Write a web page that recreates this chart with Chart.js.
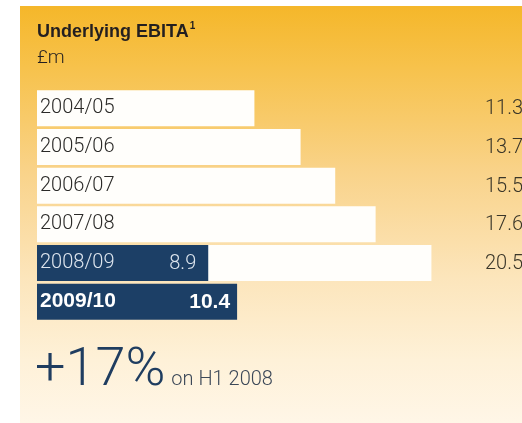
<!DOCTYPE html>
<html>
<head>
<meta charset="utf-8">
<script src="https://cdn.jsdelivr.net/npm/chart.js@4/dist/chart.umd.min.js"></script>
<style>
  html, body { margin: 0; padding: 0; background: #fff; }
  #wrap { width: 522px; height: 423px; }
</style>
</head>
<body>
<div id="wrap"><canvas id="ebitaChart" width="522" height="423"></canvas></div>
<script>
// Underlying EBITA, £m
const years = ['2004/05', '2005/06', '2006/07', '2007/08', '2008/09', '2009/10'];
const fullYear = [11.3, 13.7, 15.5, 17.6, 20.5, null];   // white bars, value shown on the right
const halfYear = [null, null, null, null, 8.9, 10.4];     // navy bars, value shown inside
const xRange = [0, 25];

const NAVY = '#1c3f66';
const LIGHT = '300 20px Roboto, "Liberation Sans", sans-serif';
const BOLD = 'bold 21px "Liberation Sans", Arial, sans-serif';

const decor = {
    id: 'decor',
    beforeDraw(chart) {
        const ctx = chart.ctx;
        ctx.save();
        ctx.fillStyle = '#ffffff';
        ctx.fillRect(0, 0, chart.width, chart.height);
        // panel gradient
        const g = ctx.createLinearGradient(0, 6, 0, chart.height);
        g.addColorStop(0, '#f5b72a');
        g.addColorStop(0.15, '#f7c24c');
        g.addColorStop(0.4, '#f9d38a');
        g.addColorStop(0.65, '#fce5bb');
        g.addColorStop(0.85, '#fef1d8');
        g.addColorStop(1, '#fff6e7');
        ctx.fillStyle = g;
        ctx.fillRect(20, 6, chart.width - 20, chart.height - 6);

        // heading
        ctx.fillStyle = '#231f20';
        ctx.textBaseline = 'alphabetic';
        ctx.textAlign = 'left';
        ctx.font = 'bold 18px "Liberation Sans", Arial, sans-serif';
        const head = 'Underlying EBITA';
        ctx.fillText(head, 37, 37);
        const w = ctx.measureText(head).width;
        ctx.font = 'bold 10px "Liberation Sans", Arial, sans-serif';
        ctx.fillText('1', 37 + w + 1, 29);
        ctx.font = '300 19px Roboto, "Liberation Sans", sans-serif';
        ctx.fillText('£m', 37, 63);

        // footer
        ctx.fillStyle = '#1f3d60';
        ctx.font = '300 54px Roboto, "Liberation Sans", sans-serif';
        ctx.fillText('+17%', 35, 385);
        const pw = ctx.measureText('+17%').width;
        ctx.fillStyle = '#3c4858';
        ctx.font = '300 20px Roboto, "Liberation Sans", sans-serif';
        ctx.fillText('on H1 2008', 35 + pw + 6, 385);
        ctx.restore();
    },
    afterDatasetsDraw(chart) {
        const ctx = chart.ctx;
        const area = chart.chartArea;
        ctx.save();
        ctx.textBaseline = 'middle';

        // full-year values in a column on the right
        const fullMeta = chart.getDatasetMeta(1);
        ctx.textAlign = 'left';
        ctx.fillStyle = '#3a3629';
        ctx.font = LIGHT;
        fullYear.forEach(function(v, i) {
            if (v === null) return;
            ctx.fillText(v.toFixed(1), area.right - 33, fullMeta.data[i].y + 1);
        });

        // half-year values inside the navy bars
        const halfMeta = chart.getDatasetMeta(0);
        ctx.textAlign = 'right';
        halfYear.forEach(function(v, i) {
            if (v === null) return;
            const bar = halfMeta.data[i];
            const last = i === halfYear.length - 1;
            ctx.font = last ? BOLD : LIGHT;
            ctx.fillStyle = last ? '#ffffff' : '#dde5ee';
            ctx.fillText(v.toFixed(1), bar.x - (last ? 7 : 12), bar.y + 1);
        });
        ctx.restore();
    }
};

new Chart(document.getElementById('ebitaChart'), {
    type: 'bar',
    data: {
        labels: years,
        datasets: [
            {
                label: 'H1',
                data: halfYear,
                backgroundColor: NAVY,
                order: 0
            },
            {
                label: 'Full year',
                data: fullYear,
                backgroundColor: '#fffefb',
                order: 1
            }
        ]
    },
    options: {
        indexAxis: 'y',
        responsive: false,
        animation: false,
        events: [],
        layout: {
            padding: { left: 31, right: 4, top: 89, bottom: 102 }
        },
        datasets: {
            bar: {
                grouped: false,
                categoryPercentage: 1,
                barPercentage: 0.93,
                borderWidth: 0
            }
        },
        scales: {
            x: {
                display: false,
                min: xRange[0],
                max: xRange[1]
            },
            y: {
                grid: { display: false, drawTicks: false },
                border: { display: false },
                ticks: {
                    z: 1,   // labels sit inside the bars, so draw them on top
                    mirror: true,
                    padding: 3,
                    color: function(c) {
                        return c.index >= 4 ? (c.index === 5 ? '#ffffff' : '#dde5ee') : '#2b2a28';
                    },
                    font: function(c) {
                        return c.index === 5
                            ? { family: '"Liberation Sans", Arial, sans-serif', size: 21, weight: 'bold' }
                            : { family: 'Roboto, "Liberation Sans", sans-serif', size: 20, weight: 300 };
                    }
                }
            }
        },
        plugins: {
            legend: { display: false },
            tooltip: { enabled: false }
        }
    },
    plugins: [decor]
});
</script>
</body>
</html>
